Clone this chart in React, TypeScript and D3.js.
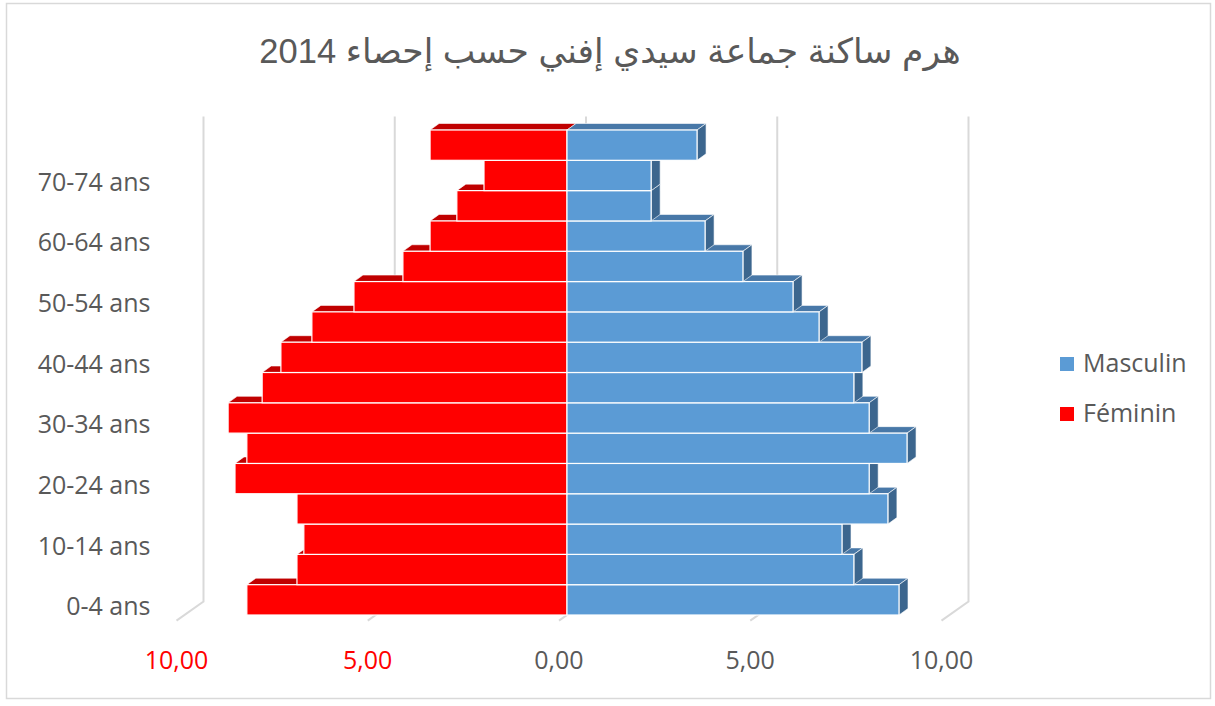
import React, { useEffect, useRef } from 'react';
import * as d3 from 'd3';

// age groups, bottom to top
const categories = [
  '0-4 ans', '5-9 ans', '10-14 ans', '15-19 ans', '20-24 ans', '25-29 ans',
  '30-34 ans', '35-39 ans', '40-44 ans', '45-49 ans', '50-54 ans', '55-59 ans',
  '60-64 ans', '65-69 ans', '70-74 ans', '75 ans et +',
];
const masculin = [8.68, 7.5, 7.19, 8.39, 7.9, 8.89, 7.9, 7.5, 7.71, 6.59, 5.91, 4.6, 3.61, 2.2, 2.2, 3.4];
const feminin = [8.37, 7.06, 6.88, 7.06, 8.68, 8.37, 8.86, 7.97, 7.48, 6.67, 5.57, 4.29, 3.58, 2.88, 2.17, 3.58];
const ticks = [-10, -5, 0, 5, 10];
const tickLabels = ['10,00', '5,00', '0,00', '5,00', '10,00'];
const seriesNames = ['Masculin', 'Féminin'];
const title = 'هرم ساكنة جماعة سيدي إفني حسب إحصاء 2014';

const W = 1215;
const H = 706;

export default function App() {
  const ref = useRef<SVGSVGElement>(null);

  useEffect(() => {
    const svg = d3.select(ref.current);
    svg.selectAll('*').remove();

    const font = '"Open Sans", "DejaVu Sans", sans-serif';
    const grey = '#595959';

    // bar (front) plane
    const x = d3.scaleLinear().domain([-10, 10]).range([184.5, 949.5]);
    const y = d3.scaleBand().domain(categories.slice().reverse()).range([130, 615]).padding(0);

    // 3d offsets
    const back = { dx: 19, dy: -13.4 };
    const floorFront = { dx: -8, dy: 5.6 };
    const depth = { dx: 9, dy: -6.5 };

    svg.append('rect')
      .attr('x', 6.5).attr('y', 3.5)
      .attr('width', 1204).attr('height', 695)
      .attr('fill', '#fff').attr('stroke', '#d9d9d9').attr('stroke-width', 1.5);

    svg.append('text')
      .attr('x', 610).attr('y', 63)
      .attr('text-anchor', 'middle')
      .attr('direction', 'rtl')
      .attr('font-family', '"Liberation Sans", Arial, "DejaVu Sans", sans-serif')
      .attr('font-size', 34.5)
      .attr('fill', grey)
      .text(title);

    const g = svg.append('g');
    const top = y.range()[0];
    const bottom = y.range()[1];

    // back wall gridlines + floor lines
    ticks.forEach((t) => {
      const bx = x(t) + back.dx;
      const by0 = top + back.dy;
      const by1 = bottom + back.dy;
      const fx = x(t) + floorFront.dx;
      const fy = bottom + floorFront.dy;
      g.append('path')
        .attr('d', `M${bx},${by0}L${bx},${by1}L${fx},${fy}`)
        .attr('fill', 'none')
        .attr('stroke', '#d9d9d9')
        .attr('stroke-width', 2);
    });

    const bh = y.bandwidth();
    const poly = (pts: number[][]) => 'M' + pts.map((p) => p.join(',')).join('L') + 'Z';

    // draw from bottom to top so the upper bars hide lower top faces
    categories.forEach((c, i) => {
      const y0 = y(c)!;
      const y1 = y0 + bh;
      const x0 = x(0);
      const xf = x(-feminin[i]);
      const xm = x(masculin[i]);

      // féminin top face
      g.append('path')
        .attr('d', poly([[xf, y0], [x0, y0], [x0 + depth.dx, y0 + depth.dy], [xf + depth.dx, y0 + depth.dy]]))
        .attr('fill', '#c00000').attr('stroke', '#fff').attr('stroke-width', 0.6);
      g.append('rect')
        .attr('x', xf).attr('y', y0)
        .attr('width', x0 - xf).attr('height', bh)
        .attr('fill', '#ff0000').attr('stroke', '#fff').attr('stroke-width', 1.2)
        .append('title').text(`${c} : ${feminin[i]}`);

      // masculin top + side faces
      g.append('path')
        .attr('d', poly([[x0, y0], [xm, y0], [xm + depth.dx, y0 + depth.dy], [x0 + depth.dx, y0 + depth.dy]]))
        .attr('fill', '#4878a8').attr('stroke', '#fff').attr('stroke-width', 0.6);
      g.append('path')
        .attr('d', poly([[xm, y0], [xm + depth.dx, y0 + depth.dy], [xm + depth.dx, y1 + depth.dy], [xm, y1]]))
        .attr('fill', '#3c668e').attr('stroke', '#fff').attr('stroke-width', 0.6);
      g.append('rect')
        .attr('x', x0).attr('y', y0)
        .attr('width', xm - x0).attr('height', bh)
        .attr('fill', '#5b9bd5').attr('stroke', '#fff').attr('stroke-width', 1.2)
        .append('title').text(`${c} : ${masculin[i]}`);
    });

    // category labels (every other one)
    categories.forEach((c, i) => {
      if (i % 2 !== 0) return;
      g.append('text')
        .attr('x', x(-10) + floorFront.dx - 26)
        .attr('y', y(c)! + bh / 2 + floorFront.dy + 3)
        .attr('text-anchor', 'end')
        .attr('dominant-baseline', 'middle')
        .attr('font-family', font)
        .attr('font-size', 25)
        .attr('fill', grey)
        .text(c);
    });

    // value axis labels
    ticks.forEach((t, i) => {
      g.append('text')
        .attr('x', x(t) + floorFront.dx)
        .attr('y', 669)
        .attr('text-anchor', 'middle')
        .attr('font-family', font)
        .attr('font-size', 25)
        .attr('fill', t < 0 ? '#ff0000' : grey)
        .text(tickLabels[i]);
    });

    // legend
    const legendColors = ['#5b9bd5', '#ff0000'];
    seriesNames.forEach((s, i) => {
      const ly = 364 + i * 50;
      g.append('rect')
        .attr('x', 1060).attr('y', ly - 7)
        .attr('width', 14).attr('height', 14)
        .attr('fill', legendColors[i]);
      g.append('text')
        .attr('x', 1083).attr('y', ly + 1)
        .attr('dominant-baseline', 'middle')
        .attr('font-family', font)
        .attr('font-size', 25)
        .attr('fill', grey)
        .text(s);
    });
  }, []);

  return (
    <div id="chartArea">
      <svg ref={ref} width={W} height={H} style={{ position: 'absolute', left: 0, top: 0 }}></svg>
    </div>
  );
}
